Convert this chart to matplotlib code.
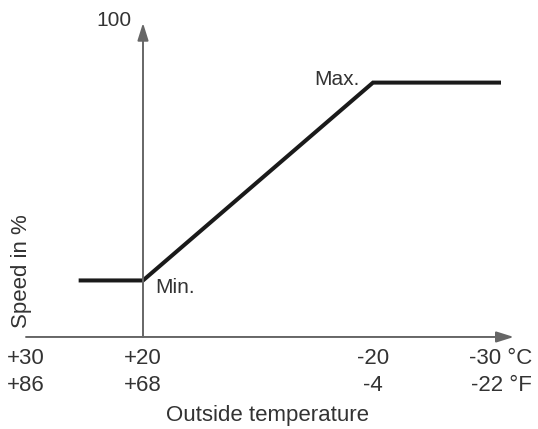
import numpy as np
import matplotlib
matplotlib.use("Agg")
from matplotlib import pyplot as plt

plt.rcParams['font.family'] = ['Liberation Sans', 'DejaVu Sans']

# data
celsius = [30, 20, -20, -30]
celsius_labels = ['+30', '+20', '-20', '-30 °C']
fahrenheit_labels = ['+86', '+68', '-4', '-22 °F']
curve_temp = [25.5, 20, -20, -30]
curve_speed = [18, 18, 81, 81]
speed_top = 100
axis_end_temp = -31

# the drawing is schematic: temperature axis is not uniform
# (temperature -> pixel column counted from the left, stored negated so it rises with t)
scale_temp = np.array([-40, -30, -20, 20, 30, 40])
scale_px = -np.array([629, 501, 373, 143, 26, -91])


def fwd(t):
    return np.interp(np.asarray(t, float), scale_temp, scale_px)


def inv(p):
    return np.interp(np.asarray(p, float), scale_px, scale_temp)


texto = '#333333'
gris = '#666666'

fig = plt.figure(figsize=(5.38, 4.29), dpi=100)
ax = fig.add_axes([0, 0, 1, 1])
ax.set_xscale('function', functions=(fwd, inv))
ax.set_xlim(inv(0), inv(-538))
ax.set_ylim(-29.3, 107.3)
ax.set_axis_off()

flecha = dict(arrowstyle='-|>,head_length=0.7,head_width=0.22', color=gris,
              lw=1.4, shrinkA=0, shrinkB=0, mutation_scale=15)
ax.annotate('', xy=(axis_end_temp, 0), xytext=(celsius[0], 0), arrowprops=flecha)
ax.annotate('', xy=(celsius[1], speed_top), xytext=(celsius[1], 0), arrowprops=flecha)

ax.plot(curve_temp, curve_speed, color='#1a1a1a', lw=2.9,
        solid_capstyle='butt', solid_joinstyle='miter')

for t, c, f in zip(celsius, celsius_labels, fahrenheit_labels):
    ax.annotate(c, (t, 0), xytext=(0, -15.2), textcoords='offset points',
                ha='center', va='center', fontsize=16, color=texto)
    ax.annotate(f, (t, 0), xytext=(0, -34.6), textcoords='offset points',
                ha='center', va='center', fontsize=16, color=texto)

ax.annotate(str(speed_top), (celsius[1], speed_top), xytext=(-8, 1.5),
            textcoords='offset points', ha='right', va='center',
            fontsize=15, color=texto)
ax.annotate('Min.', (curve_temp[1], curve_speed[1]), xytext=(8.6, -5.4),
            textcoords='offset points', ha='left', va='center',
            fontsize=15, color=texto)
ax.annotate('Max.', (curve_temp[2], curve_speed[2]), xytext=(-9.4, 2),
            textcoords='offset points', ha='right', va='center',
            fontsize=15, color=texto)

fig.text(22 / 538, 1 - 271 / 429, 'Speed in %', rotation=90, ha='center',
         va='center', fontsize=16, color=texto)
fig.text(267 / 538, 1 - 416 / 429, 'Outside temperature', ha='center',
         va='center', fontsize=16, color=texto)

fig.savefig('out.png', dpi=100, facecolor='white')
